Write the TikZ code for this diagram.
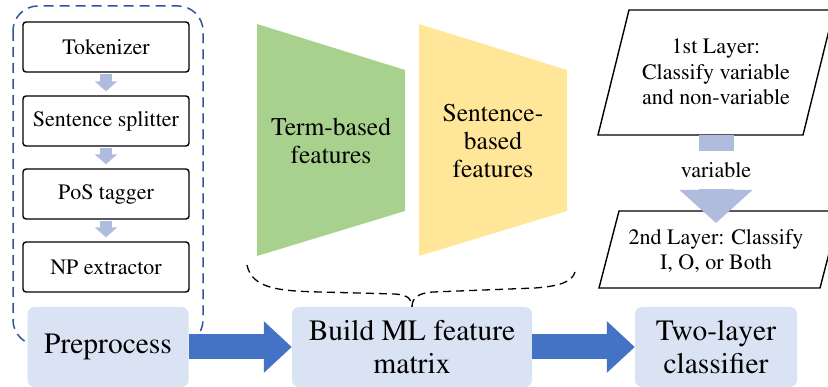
\documentclass[tikz,border=0pt]{standalone}
\usepackage[T1]{fontenc}
\usepackage{mathptmx}
\usetikzlibrary{arrows.meta,positioning}

\definecolor{boxfill}{HTML}{DAE3F3}
\definecolor{lightarrow}{HTML}{AFBCDE}
\definecolor{bigarrow}{HTML}{4472C4}
\definecolor{dashblue}{HTML}{2F5597}
\definecolor{termgreen}{HTML}{A9D18E}
\definecolor{sentyellow}{HTML}{FFE699}

\tikzset{
  stepbox/.style={draw, line width=1.4pt, rounded corners=3pt, minimum width=166pt, minimum height=50pt, font=\fontsize{22}{25}\selectfont},
  stagebox/.style={fill=boxfill, rounded corners=7pt, minimum height=80pt, align=center, font=\fontsize{29.5}{33}\selectfont},
  feattext/.style={align=center, font=\fontsize{25.5}{28}\selectfont},
  layerbox/.style={draw, line width=1.4pt, fill=white},
  layertext/.style={align=center, text=black, font=\fontsize{22}{25.5}\selectfont},
  smallarrow/.style={lightarrow, line width=12pt, -{Triangle[length=10pt,width=22pt]}},
  flowarrow/.style={bigarrow, line width=25pt, -{Triangle[length=28pt,width=50pt]}},
  vararrow/.style={lightarrow, line width=35pt, -{Triangle[length=33pt,width=71pt]}},
  dashbox/.style={dashblue, line width=1.5pt, dash pattern=on 10pt off 6pt, rounded corners=25pt},
  bracket/.style={line width=1.3pt, dash pattern=on 8pt off 5pt},
}

\begin{document}
\begin{tikzpicture}[x=1pt,y=-1pt]

        \useasboundingbox (0,0) rectangle (828,387);

        % Preprocessing steps
        \draw[dashbox] (13,6) rectangle (203,345);
        \node[stepbox] (tok) at (106,47) {Tokenizer};
        \node[stepbox] (split) at (106,121) {Sentence splitter};
        \node[stepbox] (pos) at (106,194) {PoS tagger};
        \node[stepbox] (np) at (106,267) {NP extractor};
        \draw[smallarrow, shorten <=1pt, shorten >=4pt] (tok) -- (split);
        \draw[smallarrow, shorten <=1pt, shorten >=4pt] (split) -- (pos);
        \draw[smallarrow, shorten <=1pt, shorten >=4pt] (pos) -- (np);

        % Stages
        \node[stagebox, minimum width=161pt] (pre) at (108,347) {Preprocess};
        \node[stagebox, minimum width=240pt] (build) at (412,347) {Build ML feature\\matrix};
        \node[stagebox, minimum width=162pt] (cls) at (716,347) {Two-layer\\classifier};
        \draw[flowarrow] (pre) -- (build);
        \draw[flowarrow] (build) -- (cls);

        % Feature groups
        \fill[termgreen] (257,24) -- (405,70) -- (405,211) -- (257,256) -- cycle;
        \node[feattext] (term) at (331,141) {Term-based\\features};
        \fill[sentyellow] (419,24) -- (567,70) -- (567,211) -- (419,256) -- cycle;
        \node[feattext] (sent) at (493,141) {Sentence-\\based\\features};
        \draw[bracket] (247,265) .. controls (252,289) and (280,291) .. (320,292)
            -- (395,294) .. controls (408,295) and (412,299) .. (build.north);
        \draw[bracket] (build.north) .. controls (412,298) and (418,293) .. (433,292)
            -- (535,288) .. controls (560,286) and (572,282) .. (575,272);

        % Classifier layers
        \draw[layerbox] (629,10) -- (834,10) -- (803,135) -- (598,135) -- cycle;
        \node[layertext] (first) at (716,72) {1st Layer:\\Classify variable\\and non-variable};
        \draw[layerbox] (619,211) -- (840,211) -- (820,288) -- (599,288) -- cycle;
        \node[layertext] (second) at (716,251) {2nd Layer: Classify\\I, O, or Both};
        \coordinate (firstbottom) at (716,135);
        \coordinate (secondtop) at (716,223);
        \draw[vararrow] (firstbottom) -- (secondtop)
            node[pos=0.4, fill=white, minimum height=38pt, inner xsep=2pt, layertext] {variable};

    \end{tikzpicture}
\end{document}
